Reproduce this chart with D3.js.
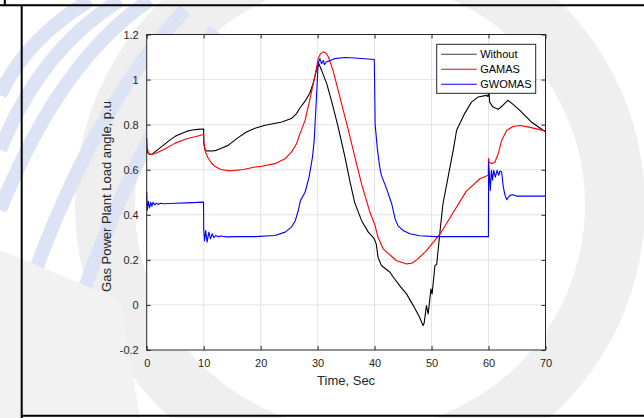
<!DOCTYPE html>
<html>
<head>
<meta charset="utf-8">
<script src="https://cdn.jsdelivr.net/npm/d3@7"></script>
<style>
  html, body { margin: 0; padding: 0; background: #fff; }
  svg { display: block; font-family: "Liberation Sans", Arial, sans-serif; }
</style>
</head>
<body>
<svg id="chart" width="644" height="418"></svg>
<script>
// [time (s), load angle (p.u)]
const withoutSeries = [
  [0,0.69],[0.2,0.675],[0.5,0.668],[1,0.67],[2,0.69],[3,0.71],[4,0.73],[5,0.748],[6,0.76],[7,0.77],
  [8,0.776],[9,0.779],[10,0.781],[10.02,0.72],[10.2,0.69],[10.5,0.683],[11,0.684],[11.5,0.683],
  [12.2,0.686],[12.9,0.693],[14.3,0.708],[15.8,0.738],[17.5,0.767],[19,0.784],[20.8,0.797],
  [23.7,0.812],[25.4,0.827],[26.3,0.849],[26.9,0.874],[27.8,0.904],[28.6,0.938],[29.2,0.982],
  [29.8,1.041],[30.2,1.071],[30.7,1.041],[31.6,0.982],[32.5,0.9],[33.6,0.79],[34.8,0.656],
  [35.7,0.545],[36.5,0.455],[37.7,0.375],[38.9,0.323],[39.9,0.295],[40.3,0.27],[40.6,0.212],
  [41.2,0.175],[42.7,0.145],[43.3,0.123],[44.4,0.086],[45.6,0.049],[46.8,-0.003],[47.9,-0.055],
  [48.5,-0.092],[48.7,-0.08],[49.1,-0.003],[49.4,-0.04],[49.9,0.071],[50.1,0.049],[50.6,0.175],
  [50.9,0.18],[51.5,0.33],[52,0.449],[52.9,0.567],[53.8,0.686],[54.4,0.775],[55.8,0.849],
  [57,0.9],[58.2,0.923],[59.6,0.93],[59.9,0.925],[60.05,0.96],[60.2,0.9],[60.8,0.878],
  [61.7,0.868],[62.5,0.885],[63.4,0.908],[64.3,0.89],[65.5,0.863],[67.5,0.812],[69.6,0.775],[70,0.768]
];
const gamasSeries = [
  [0,0.742],[0.1,0.7],[0.3,0.672],[0.7,0.667],[1.5,0.672],[3,0.69],[5,0.718],[7,0.737],[9,0.75],
  [10,0.756],[10.03,0.72],[10.3,0.68],[10.7,0.655],[11.3,0.632],[12,0.614],[13,0.601],[14.5,0.595],
  [17,0.601],[19,0.612],[20.2,0.615],[22.5,0.627],[24.3,0.649],[25.4,0.678],[26.3,0.715],
  [26.9,0.76],[27.8,0.819],[28.6,0.908],[29.5,1.012],[30.1,1.093],[30.5,1.115],[31,1.123],
  [31.5,1.117],[31.9,1.1],[32.7,1.041],[33.9,0.923],[35.4,0.775],[36.5,0.66],[37.7,0.538],
  [39.2,0.41],[40.05,0.355],[40.6,0.3],[41.5,0.249],[43,0.215],[43.8,0.197],[45.6,0.182],
  [46.5,0.185],[47.4,0.2],[49.1,0.241],[51.5,0.315],[53.8,0.41],[56.1,0.505],[58.5,0.56],
  [59.95,0.575],[60,0.649],[60.1,0.635],[60.5,0.627],[61.1,0.633],[61.7,0.671],[62.3,0.73],
  [63.2,0.775],[64.3,0.792],[65.5,0.796],[66.9,0.79],[69,0.778],[70,0.772]
];
const gwomasSeries = [
  [0,0.5],[0.1,0.42],[0.3,0.46],[0.5,0.43],[0.7,0.455],[0.9,0.438],[1.1,0.455],[1.4,0.444],
  [1.7,0.452],[2,0.446],[2.4,0.451],[3,0.449],[5,0.451],[7,0.453],[9,0.455],[9.98,0.456],
  [10,0.34],[10.15,0.285],[10.35,0.33],[10.6,0.278],[10.9,0.323],[11.2,0.293],[11.5,0.316],
  [11.8,0.298],[12.1,0.308],[12.6,0.302],[13,0.306],[14,0.302],[16,0.303],[19,0.303],
  [22.5,0.308],[24.3,0.323],[25.4,0.345],[26.1,0.375],[26.6,0.419],[27,0.464],[27.8,0.5],
  [28.5,0.567],[29.1,0.656],[29.4,0.73],[29.8,0.923],[30.1,1.071],[30.4,1.093],[30.7,1.07],
  [31,1.085],[31.2,1.066],[31.5,1.078],[32.1,1.083],[33,1.093],[34.8,1.098],[36.5,1.096],
  [39.95,1.089],[40.1,0.8],[40.5,0.69],[40.9,0.612],[41.2,0.575],[42.1,0.516],[43,0.449],
  [43.6,0.382],[44.1,0.352],[45,0.33],[46.2,0.316],[47.9,0.307],[50.8,0.303],[59.98,0.303],
  [60.02,0.634],[60.3,0.508],[60.5,0.597],[60.7,0.553],[60.9,0.597],[61.2,0.567],[61.5,0.597],
  [61.8,0.575],[62,0.594],[62.3,0.59],[62.6,0.523],[62.9,0.486],[63.2,0.467],[63.5,0.479],
  [63.8,0.486],[64.3,0.489],[64.9,0.483],[70,0.483]
];

const seriesNames = ['Without', 'GAMAS', 'GWOMAS'];
const seriesColors = ['#000000', '#ff0000', '#0000ff'];
const xTicks = [0, 10, 20, 30, 40, 50, 60, 70];
const yTicks = [-0.2, 0, 0.2, 0.4, 0.6, 0.8, 1, 1.2];
const yTickLabels = ['-0.2', '0', '0.2', '0.4', '0.6', '0.8', '1', '1.2'];

const svg = d3.select('#chart');
const W = 644, H = 418;
const plot = { left: 146.7, right: 545.5, top: 34.5, bottom: 350 };

svg.append('rect').attr('width', W).attr('height', H).attr('fill', '#fff');

// faint watermark behind the figure
const wm = svg.append('g').attr('class', 'watermark');
wm.append('circle')
  .attr('cx', 360).attr('cy', 205).attr('r', 255)
  .attr('fill', 'none').attr('stroke', '#efefef').attr('stroke-width', 60);
const feathers = [
  'M150,0 Q60,60 0,210', 'M120,0 Q40,50 0,150', 'M90,0 Q25,40 0,95',
  'M185,10 Q90,110 25,300', 'M215,30 Q130,150 70,330'
];
wm.selectAll('path.feather')
  .data(feathers)
  .join('path')
  .attr('class', 'feather')
  .attr('d', d => d)
  .attr('fill', 'none')
  .attr('stroke', '#dbe3f5')
  .attr('stroke-width', 14);
wm.append('path')
  .attr('d', 'M0,250 L120,300 L140,418 L0,418 Z')
  .attr('fill', '#f2f2f2');

// table borders
svg.append('line').attr('x1', 0).attr('x2', W).attr('y1', 5.3).attr('y2', 5.3)
  .attr('stroke', '#000').attr('stroke-width', 2);
svg.append('line').attr('x1', 21.7).attr('x2', 21.7).attr('y1', 5).attr('y2', H)
  .attr('stroke', '#000').attr('stroke-width', 2);
svg.append('line').attr('x1', 4.8).attr('x2', 4.8).attr('y1', 0).attr('y2', 5)
  .attr('stroke', '#000').attr('stroke-width', 2);
svg.append('line').attr('x1', 21).attr('x2', W).attr('y1', 415.7).attr('y2', 415.7)
  .attr('stroke', '#000').attr('stroke-width', 2);

const x = d3.scaleLinear().domain([0, 70]).range([plot.left, plot.right]);
const y = d3.scaleLinear().domain([-0.2, 1.2]).range([plot.bottom, plot.top]);

// axes background
svg.append('rect')
  .attr('x', plot.left).attr('y', plot.top)
  .attr('width', plot.right - plot.left).attr('height', plot.bottom - plot.top)
  .attr('fill', '#fff');

// grid
const grid = svg.append('g').attr('stroke', '#e3e3e3').attr('stroke-width', 1);
grid.selectAll('line.gx').data(xTicks.slice(1, -1)).join('line')
  .attr('x1', d => x(d)).attr('x2', d => x(d))
  .attr('y1', plot.top).attr('y2', plot.bottom);
grid.selectAll('line.gy').data(yTicks.slice(1, -1)).join('line')
  .attr('x1', plot.left).attr('x2', plot.right)
  .attr('y1', d => y(d)).attr('y2', d => y(d));

// lines
const line = d3.line().x(d => x(d[0])).y(d => y(d[1]));
const allSeries = [withoutSeries, gamasSeries, gwomasSeries];
svg.append('g')
  .selectAll('path')
  .data(allSeries)
  .join('path')
  .attr('d', line)
  .attr('fill', 'none')
  .attr('stroke', (d, i) => seriesColors[i])
  .attr('stroke-width', 1.1)
  .attr('stroke-linejoin', 'round');

// axes (inward ticks, box on)
const axisStyle = g => {
  g.select('.domain').remove();
  g.selectAll('.tick line').attr('stroke', '#262626');
  g.selectAll('.tick text').attr('fill', '#262626').style('font-size', '11px')
    .style('font-family', '"Liberation Sans", Arial, sans-serif');
};
svg.append('g').attr('transform', `translate(0,${plot.bottom})`)
  .call(d3.axisBottom(x).tickValues(xTicks).tickFormat(d => String(d)).tickSizeInner(-4).tickSizeOuter(0).tickPadding(9))
  .call(axisStyle);
svg.append('g').attr('transform', `translate(0,${plot.top})`)
  .call(d3.axisTop(x).tickValues(xTicks).tickFormat('').tickSizeInner(-4).tickSizeOuter(0))
  .call(axisStyle);
svg.append('g').attr('transform', `translate(${plot.left},0)`)
  .call(d3.axisLeft(y).tickValues(yTicks).tickFormat((d, i) => yTickLabels[i]).tickSizeInner(-4).tickSizeOuter(0).tickPadding(8))
  .call(axisStyle);
svg.append('g').attr('transform', `translate(${plot.right},0)`)
  .call(d3.axisRight(y).tickValues(yTicks).tickFormat('').tickSizeInner(-4).tickSizeOuter(0))
  .call(axisStyle);

svg.append('rect')
  .attr('x', plot.left).attr('y', plot.top)
  .attr('width', plot.right - plot.left).attr('height', plot.bottom - plot.top)
  .attr('fill', 'none').attr('stroke', '#262626').attr('stroke-width', 1);

// axis labels
svg.append('text')
  .attr('x', (plot.left + plot.right) / 2).attr('y', 385)
  .attr('text-anchor', 'middle').attr('fill', '#262626').style('font-size', '13px')
  .text('Time, Sec');
svg.append('text')
  .attr('transform', 'translate(111,196.5) rotate(-90)')
  .attr('text-anchor', 'middle').attr('fill', '#262626').style('font-size', '13px')
  .text('Gas Power Plant Load angle, p.u');

// legend
const legend = svg.append('g').attr('transform', 'translate(436.7,44.3)');
legend.append('rect').attr('width', 99).attr('height', 49)
  .attr('fill', '#fff').attr('stroke', '#262626').attr('stroke-width', 1);
const item = legend.selectAll('g.item').data(seriesNames).join('g')
  .attr('class', 'item')
  .attr('transform', (d, i) => `translate(0,${10 + i * 15})`);
item.append('line').attr('x1', 4.5).attr('x2', 40).attr('y1', 0).attr('y2', 0)
  .attr('stroke', (d, i) => i === 0 ? '#404040' : seriesColors[i]).attr('stroke-width', 1.1);
item.append('text').attr('x', 43.5).attr('y', 4).attr('fill', '#000')
  .style('font-size', '11px').text(d => d);
</script>
</body>
</html>
